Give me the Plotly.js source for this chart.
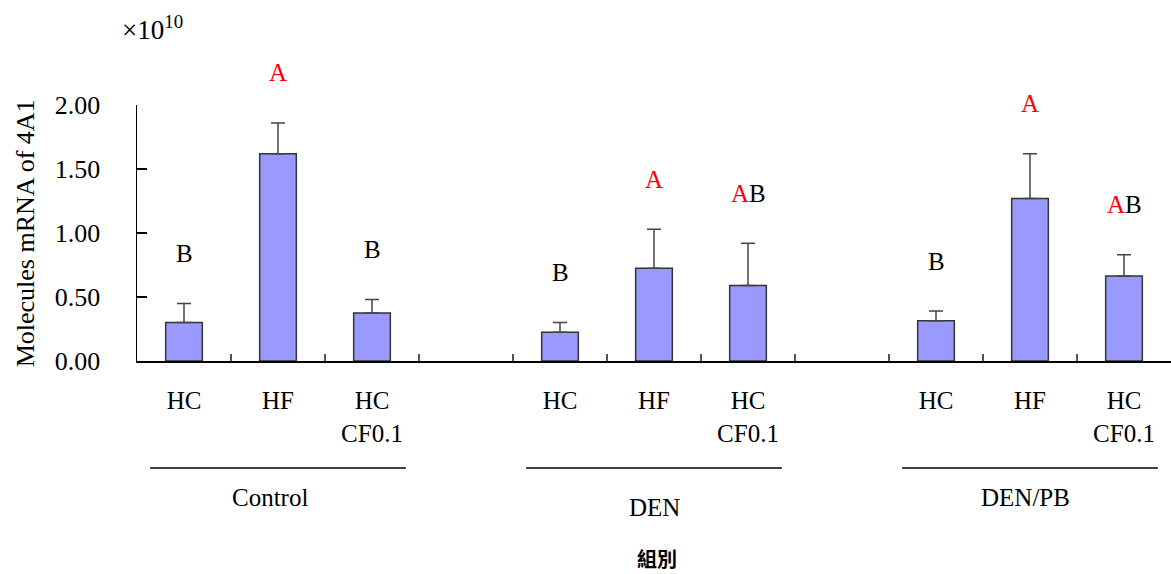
<!DOCTYPE html>
<html>
<head>
<meta charset="utf-8">
<script src="https://cdn.plot.ly/plotly-3.0.1.min.js"></script>
<style>html,body{margin:0;padding:0;background:#fff;}#chart{width:1171px;height:574px;}</style>
</head>
<body>
<div id="chart"></div>
<script>
// ---- data (values in units of 1e10 molecules) ----
const groups = ['Control', 'DEN', 'DEN/PB'];
const treatments = ['HC', 'HF', 'HC<br>CF0.1'];
const controlMeans = [0.30, 1.62, 0.375];
const denMeans = [0.224, 0.724, 0.59];
const denPbMeans = [0.315, 1.27, 0.664];
const controlErr = [0.15, 0.24, 0.105];
const denErr = [0.076, 0.306, 0.33];
const denPbErr = [0.075, 0.35, 0.166];
const controlLetters = ['B', 'A', 'B'];
const denLetters = ['B', 'A', 'AB'];
const denPbLetters = ['B', 'A', 'AB'];
const yTickVals = [0, 0.5, 1.0, 1.5, 2.0];
const yTickText = ['0.00', '0.50', '1.00', '1.50', '2.00'];

const means = [controlMeans, denMeans, denPbMeans];
const errs = [controlErr, denErr, denPbErr];
const letters = [controlLetters, denLetters, denPbLetters];

const FONT = '"Times New Roman", "Liberation Serif", serif';
const slotsPerGroup = treatments.length + 1;

const xs = [], ys = [], es = [], zeros = [], labelTexts = [];
const anns = [];
groups.forEach((g, gi) => {
  treatments.forEach((t, ti) => {
    const x = gi * slotsPerGroup + ti;
    xs.push(x); ys.push(means[gi][ti]); es.push(errs[gi][ti]); zeros.push(0);
    labelTexts.push(t);
    const L = letters[gi][ti].replace(/A/g, '<span style="color:#ff0000">A</span>');
    anns.push({x: x, y: means[gi][ti] + errs[gi][ti], xref: 'x', yref: 'y', text: L,
      showarrow: false, yanchor: 'middle', yshift: 50, font: {family: FONT, size: 25, color: '#000'}});
  });
});
const nSlots = groups.length * slotsPerGroup - 1;
const boundaries = [];
for (let i = 0; i < nSlots - 1; i++) boundaries.push(i + 0.5);

const shapes = [];
const groupLabelY = [-0.533, -0.572, -0.533];
const groupLabelShift = [-8, 0, -5];
groups.forEach((g, gi) => {
  const c = gi * slotsPerGroup + 1;
  shapes.push({type: 'line', xref: 'x', yref: 'paper', x0: c - 1.36, x1: c + 1.36, y0: -0.418, y1: -0.418,
    line: {color: '#000', width: 1.5}});
  anns.push({x: c, y: groupLabelY[gi], xref: 'x', yref: 'paper', text: g, showarrow: false, xshift: groupLabelShift[gi],
    yanchor: 'middle', font: {family: FONT, size: 25, color: '#000'}});
});
anns.push({x: 0.503, y: -0.77, xref: 'paper', yref: 'paper', text: '<b>組別</b>', showarrow: false,
  yanchor: 'middle', font: {family: 'Noto Sans CJK TC', size: 20, color: '#000'}});
anns.push({x: -0.108, y: 0.5, xref: 'paper', yref: 'paper', text: 'Molecules mRNA of 4A1', textangle: -90,
  showarrow: false, xanchor: 'center', yanchor: 'middle', font: {family: FONT, size: 26, color: '#000'}});
anns.push({x: -0.016, y: 1.30, xref: 'paper', yref: 'paper', text: '×10<sup>10</sup>', showarrow: false,
  xanchor: 'left', yanchor: 'middle', font: {family: FONT, size: 27, color: '#000'}});

const trace = {
  type: 'bar', x: xs, y: ys, width: 0.39,
  marker: {color: '#9999ff', line: {color: '#333', width: 1.5}},
  error_y: {type: 'data', symmetric: false, array: es, arrayminus: zeros, color: '#444', thickness: 1.5, width: 7},
  hoverinfo: 'skip', cliponaxis: false
};
const labelTrace = {type: 'scatter', x: xs, y: zeros, xaxis: 'x2', mode: 'markers', marker: {opacity: 0}, hoverinfo: 'skip', showlegend: false};

const layout = {
  width: 1171, height: 574,
  margin: {l: 137, r: 0, t: 105, b: 213},
  font: {family: FONT, size: 25, color: '#000'},
  paper_bgcolor: '#fff', plot_bgcolor: '#fff',
  showlegend: false,
  xaxis: {range: [-0.5, nSlots - 0.5], tickmode: 'array', tickvals: boundaries, showticklabels: false,
    ticks: 'inside', ticklen: 7, tickwidth: 1.5, tickcolor: '#555', showline: true, linecolor: '#000', linewidth: 1.5,
    showgrid: false, zeroline: false, fixedrange: true},
  xaxis2: {overlaying: 'x', anchor: 'y', side: 'bottom', matches: 'x', range: [-0.5, nSlots - 0.5], tickmode: 'array',
    tickvals: xs, ticktext: labelTexts, ticks: 'outside', ticklen: 17, tickcolor: 'rgba(0,0,0,0)',
    showline: false, showgrid: false, zeroline: false, tickfont: {family: FONT, size: 25, color: '#000'}},
  yaxis: {range: [0, 2], tickmode: 'array', tickvals: yTickVals, ticktext: yTickText, ticks: 'inside', ticklen: 10,
    tickwidth: 1.5, tickcolor: '#000', showline: true, linecolor: '#000', linewidth: 1.5, showgrid: false, zeroline: false,
    ticklabelstandoff: 30, tickfont: {family: FONT, size: 26, color: '#000'}},
  shapes: shapes,
  annotations: anns
};
Plotly.newPlot('chart', [trace, labelTrace], layout, {staticPlot: true, displayModeBar: false});
</script>
</body>
</html>
